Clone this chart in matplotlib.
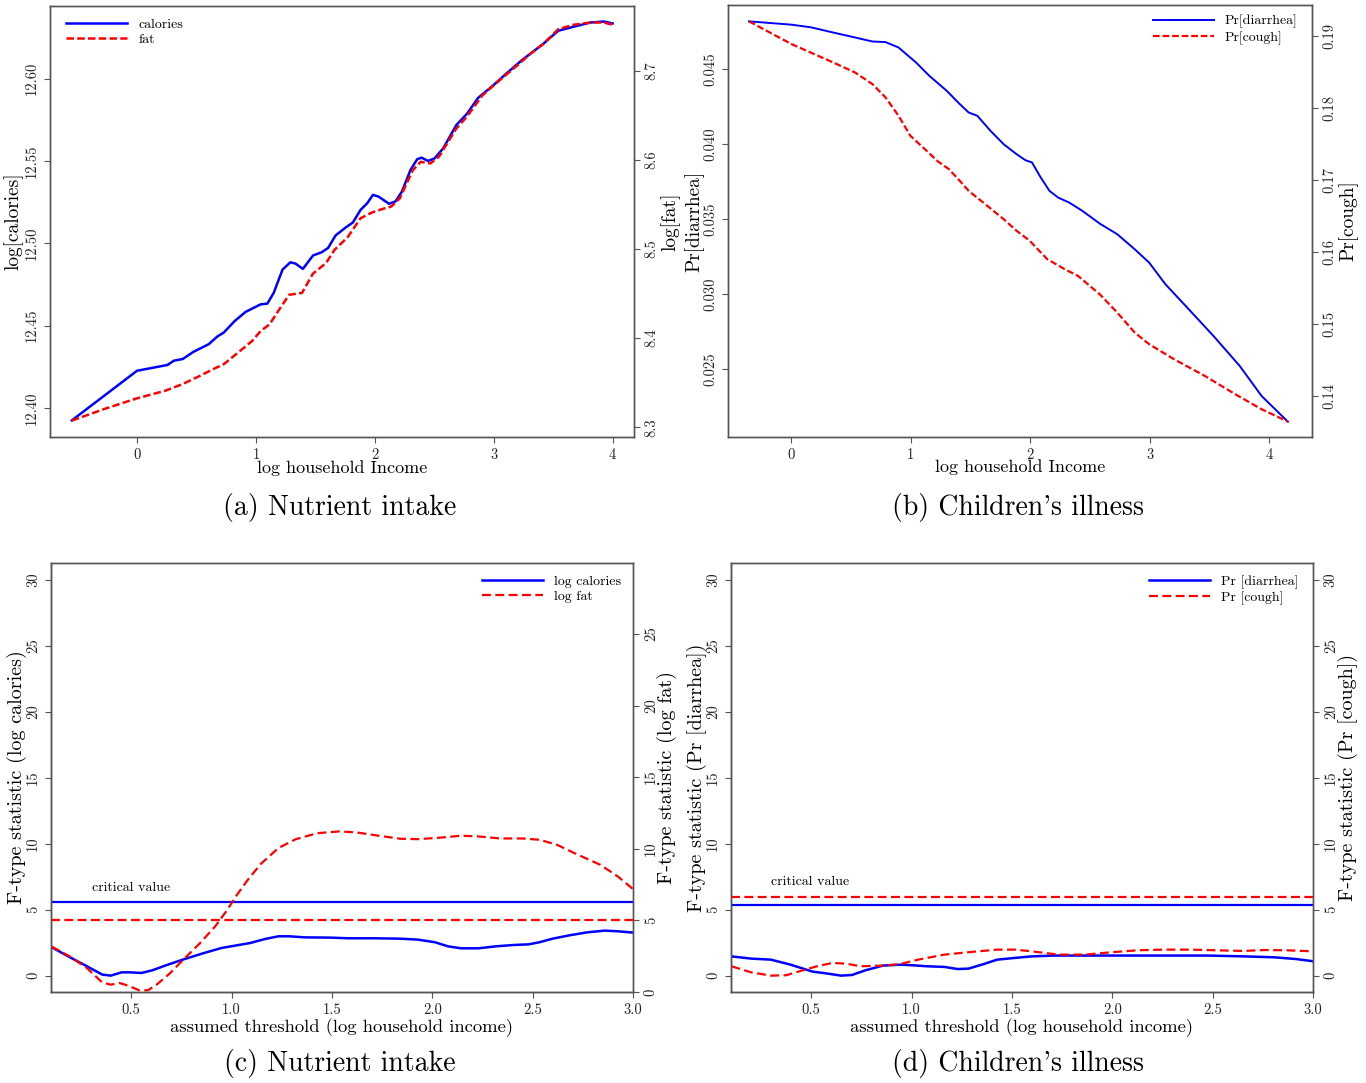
import matplotlib
matplotlib.use('Agg')
import matplotlib.pyplot as plt
from matplotlib.ticker import FixedLocator, FormatStrFormatter

plt.rcParams['font.family'] = ['cmr10', 'DejaVu Serif']
plt.rcParams['axes.formatter.use_mathtext'] = True
plt.rcParams['mathtext.fontset'] = 'cm'

# ---------------- data ----------------
# (a) Nutrient intake
a_cal_x = [-0.548, 0.0, 0.256, 0.31, 0.384, 0.475, 0.603, 0.676, 0.73, 0.822, 0.913, 1.04, 1.096,
           1.15, 1.224, 1.29, 1.333, 1.395, 1.48, 1.553, 1.607, 1.67, 1.753, 1.816, 1.88, 1.936,
           1.984, 2.03, 2.12, 2.173, 2.228, 2.30, 2.356, 2.393, 2.447, 2.502, 2.575, 2.685, 2.776,
           2.868, 2.995, 3.105, 3.233, 3.416, 3.543, 3.67, 3.817, 3.927, 4.0]
a_cal_y = [12.3926, 12.4227, 12.4262, 12.4288, 12.4298, 12.4342, 12.4388, 12.4435, 12.4459, 12.4529,
           12.4584, 12.4630, 12.4634, 12.4700, 12.4841, 12.4885, 12.4877, 12.4845, 12.4926, 12.4946,
           12.4972, 12.5048, 12.5095, 12.5127, 12.5203, 12.5243, 12.5294, 12.5284, 12.5240, 12.5254,
           12.5314, 12.5445, 12.5510, 12.5520, 12.5500, 12.5515, 12.5576, 12.5717, 12.5787, 12.5882,
           12.5958, 12.6029, 12.6109, 12.6210, 12.6290, 12.6314, 12.6340, 12.6346, 12.6334]
a_fat_x = [-0.548, -0.274, 0.0, 0.237, 0.384, 0.53, 0.64, 0.73, 0.822, 0.968, 1.04, 1.114, 1.187,
           1.279, 1.388, 1.48, 1.59, 1.662, 1.772, 1.88, 1.973, 2.064, 2.137, 2.21, 2.32, 2.386,
           2.466, 2.539, 2.685, 2.776, 2.904, 3.03, 3.196, 3.306, 3.416, 3.543, 3.67, 3.817, 3.927, 4.0]
a_fat_y = [8.3074, 8.3205, 8.3324, 8.3409, 8.3484, 8.3577, 8.3651, 8.3707, 8.3807, 8.3967, 8.4079,
           8.4153, 8.4302, 8.4485, 8.4507, 8.4723, 8.4842, 8.4991, 8.5132, 8.5344, 8.5407, 8.5448,
           8.5474, 8.5567, 8.5884, 8.5977, 8.5958, 8.6033, 8.6349, 8.6487, 8.6721, 8.6870, 8.7056,
           8.7186, 8.7298, 8.7465, 8.7514, 8.7540, 8.7540, 8.7514]

# (b) Children's illness
b_dia_x = [-0.355, 0.0, 0.165, 0.348, 0.531, 0.678, 0.788, 0.897, 1.044, 1.154, 1.30, 1.41, 1.484,
           1.557, 1.667, 1.777, 1.886, 1.96, 2.015, 2.088, 2.161, 2.234, 2.326, 2.436, 2.582, 2.729,
           2.875, 2.996, 3.132, 3.315, 3.535, 3.755, 3.938, 4.158]
b_dia_y = [0.04818, 0.04796, 0.04778, 0.04744, 0.04711, 0.04684, 0.04680, 0.04644, 0.04544, 0.04456,
           0.04356, 0.04267, 0.04211, 0.04189, 0.04089, 0.04000, 0.03933, 0.03893, 0.03878, 0.03778,
           0.03689, 0.03644, 0.03611, 0.03556, 0.03471, 0.03400, 0.03300, 0.03211, 0.03067, 0.02911,
           0.02722, 0.02522, 0.02322, 0.02151]
b_cou_x = [-0.355, 0.0, 0.348, 0.531, 0.678, 0.788, 0.897, 0.996, 1.117, 1.227, 1.319, 1.41, 1.484,
           1.63, 1.777, 1.886, 1.996, 2.143, 2.289, 2.399, 2.582, 2.729, 2.875, 2.996, 3.205, 3.462,
           3.718, 3.938, 4.158]
b_cou_y = [0.19199, 0.18884, 0.18630, 0.18491, 0.18329, 0.18144, 0.17889, 0.17611, 0.17426, 0.17255,
           0.17148, 0.16986, 0.16847, 0.16653, 0.16454, 0.16292, 0.16153, 0.15898, 0.15759, 0.15667,
           0.15412, 0.15157, 0.14880, 0.14718, 0.14509, 0.14278, 0.14023, 0.13815, 0.13644]

# (c) F-type statistics, nutrient intake
c_cal_x = [0.101, 0.192, 0.279, 0.355, 0.398, 0.452, 0.496, 0.55, 0.604, 0.669, 0.756, 0.864, 0.951,
           1.016, 1.092, 1.168, 1.233, 1.287, 1.363, 1.493, 1.58, 1.71, 1.84, 1.927, 2.013, 2.078,
           2.143, 2.23, 2.317, 2.404, 2.48, 2.534, 2.599, 2.686, 2.772, 2.859, 2.924, 3.0]
c_cal_y = [2.17, 1.41, 0.71, 0.08, 0.0, 0.25, 0.25, 0.2, 0.4, 0.76, 1.21, 1.72, 2.1, 2.27, 2.47, 2.78,
           2.98, 2.98, 2.9, 2.88, 2.83, 2.83, 2.8, 2.73, 2.53, 2.22, 2.07, 2.07, 2.22, 2.32, 2.37, 2.53,
           2.8, 3.06, 3.28, 3.41, 3.36, 3.26]
c_fat_x = [0.101, 0.192, 0.279, 0.355, 0.398, 0.441, 0.485, 0.539, 0.583, 0.626, 0.691, 0.756, 0.843,
           0.918, 0.973, 1.027, 1.081, 1.146, 1.233, 1.32, 1.428, 1.537, 1.623, 1.732, 1.84, 1.927,
           2.035, 2.143, 2.23, 2.338, 2.447, 2.534, 2.621, 2.707, 2.837, 2.924, 3.0]
c_fat_y = [3.19, 2.49, 1.67, 0.67, 0.51, 0.63, 0.44, 0.12, 0.12, 0.51, 1.28, 2.21, 3.42, 4.58, 5.63,
           6.79, 7.84, 8.95, 10.05, 10.67, 11.09, 11.21, 11.14, 10.91, 10.7, 10.67, 10.77, 10.91,
           10.86, 10.72, 10.72, 10.63, 10.28, 9.7, 8.88, 8.07, 7.19]
c_crit_cal = 5.56
c_crit_fat = 5.05

# (d) F-type statistics, children's illness
d_dia_x = [0.102, 0.2, 0.299, 0.397, 0.507, 0.561, 0.649, 0.703, 0.769, 0.857, 0.944, 1.01, 1.075,
           1.163, 1.229, 1.283, 1.36, 1.426, 1.513, 1.6, 1.71, 1.93, 2.148, 2.476, 2.651, 2.804,
           2.914, 3.0]
d_dia_y = [1.46, 1.29, 1.21, 0.83, 0.3, 0.2, 0.0, 0.05, 0.4, 0.76, 0.83, 0.78, 0.71, 0.66, 0.5, 0.53,
           0.88, 1.21, 1.34, 1.46, 1.52, 1.52, 1.52, 1.52, 1.46, 1.39, 1.26, 1.09]
d_cou_x = [0.102, 0.2, 0.299, 0.375, 0.441, 0.528, 0.605, 0.671, 0.747, 0.857, 0.944, 1.032, 1.163,
           1.294, 1.426, 1.513, 1.6, 1.732, 1.863, 1.994, 2.126, 2.256, 2.39, 2.52, 2.651, 2.76,
           2.87, 3.0]
d_cou_y = [0.71, 0.25, 0.0, 0.03, 0.33, 0.71, 0.96, 0.91, 0.71, 0.76, 0.88, 1.21, 1.59, 1.79, 1.97,
           1.97, 1.84, 1.59, 1.59, 1.77, 1.92, 1.97, 1.97, 1.92, 1.87, 1.94, 1.92, 1.84]
d_crit_dia = 5.33
d_crit_cou = 5.93

captions = ["(a) Nutrient intake", "(b) Children's illness",
            "(c) Nutrient intake", "(d) Children's illness"]

# ---------------- drawing ----------------
W, H = 1366, 1083
fig = plt.figure(figsize=(W / 100, H / 100), dpi=100)

BLUE = '#0000ff'
RED = '#ff0000'
TICKC = '#222'
TFS = 10.5


def rect(l, r, t, b):
    return [l / W, 1 - b / H, (r - l) / W, (b - t) / H]


def style(ax, spine_col='#555'):
    for s in ax.spines.values():
        s.set_color(spine_col)
        s.set_linewidth(1.0)
    ax.tick_params(axis='both', direction='out', length=4, width=0.8, colors='#555',
                   labelcolor=TICKC, labelsize=TFS, pad=4)
    ax.tick_params(axis='y', labelrotation=90)
    for lab in ax.get_yticklabels():
        lab.set_va('center')


def set_ylab(ax, text, xfrac, fs=14):
    ax.set_ylabel(text, fontsize=fs, rotation=90)
    ax.yaxis.set_label_coords(xfrac, 0.5)
    ax.yaxis.label.set_va('center')
    ax.yaxis.label.set_ha('center')


def set_xlab(ax, text, yfrac, fs=13):
    ax.set_xlabel(text, fontsize=fs)
    ax.xaxis.set_label_coords(0.5, yfrac)
    ax.xaxis.label.set_va('center')


def legend(ax, handles, loc, anchor):
    ax.legend(handles=handles, loc=loc, bbox_to_anchor=anchor, frameon=False, fontsize=10,
              handlelength=4.4, handletextpad=0.8, labelspacing=0.2, borderaxespad=0.0)


# ---- (a)
axa = fig.add_axes(rect(50, 634, 6, 437))
axa2 = axa.twinx()
la, = axa.plot(a_cal_x, a_cal_y, color=BLUE, lw=1.8, label='calories')
lb, = axa2.plot(a_fat_x, a_fat_y, color=RED, lw=1.8, ls=(0, (3, 1.3)), label='fat')
axa.set_xlim(-0.732, 4.18)
axa.set_ylim(12.3825, 12.644)
axa2.set_ylim(8.289, 8.7725)
axa.xaxis.set_major_locator(FixedLocator([0, 1, 2, 3, 4]))
axa.xaxis.set_major_formatter(FormatStrFormatter('%d'))
axa.yaxis.set_major_locator(FixedLocator([12.40, 12.45, 12.50, 12.55, 12.60]))
axa.yaxis.set_major_formatter(FormatStrFormatter('%.2f'))
axa2.yaxis.set_major_locator(FixedLocator([8.3, 8.4, 8.5, 8.6, 8.7]))
axa2.yaxis.set_major_formatter(FormatStrFormatter('%.1f'))
style(axa); style(axa2)
set_ylab(axa, 'log[calories]', -0.062)
set_ylab(axa2, 'log[fat]', 1.062)
set_xlab(axa, 'log household Income', -0.072)
legend(axa, [la, lb], 'upper left', (0.018, 0.985))

# ---- (b)
axb = fig.add_axes(rect(728, 1312, 5, 437))
axb2 = axb.twinx()
lc, = axb.plot(b_dia_x, b_dia_y, color=BLUE, lw=1.4, label='Pr[diarrhea]')
ld, = axb2.plot(b_cou_x, b_cou_y, color=RED, lw=1.6, ls=(0, (3, 1.3)), label='Pr[cough]')
axb.set_xlim(-0.531, 4.36)
axb.set_ylim(0.02049, 0.04927)
axb2.set_ylim(0.1343, 0.19426)
axb.xaxis.set_major_locator(FixedLocator([0, 1, 2, 3, 4]))
axb.xaxis.set_major_formatter(FormatStrFormatter('%d'))
axb.yaxis.set_major_locator(FixedLocator([0.025, 0.030, 0.035, 0.040, 0.045]))
axb.yaxis.set_major_formatter(FormatStrFormatter('%.3f'))
axb2.yaxis.set_major_locator(FixedLocator([0.14, 0.15, 0.16, 0.17, 0.18, 0.19]))
axb2.yaxis.set_major_formatter(FormatStrFormatter('%.2f'))
style(axb); style(axb2)
set_ylab(axb, 'Pr[diarrhea]', -0.058)
set_ylab(axb2, 'Pr[cough]', 1.062)
set_xlab(axb, 'log household Income', -0.07)
legend(axb, [lc, ld], 'upper right', (0.985, 0.99))

# ---- (c)
axc = fig.add_axes(rect(51, 633, 563, 992))
axc2 = axc.twinx()
le, = axc.plot(c_cal_x, c_cal_y, color=BLUE, lw=1.8, label='log calories')
lf, = axc2.plot(c_fat_x, c_fat_y, color=RED, lw=1.6, ls=(0, (4, 2)), label='log fat')
axc.axhline(c_crit_cal, color=BLUE, lw=1.6)
axc2.axhline(c_crit_fat, color=RED, lw=1.6, ls=(0, (4, 2)))
axc.text(0.305, 6.15, 'critical value', fontsize=10, ha='left', va='bottom')
axc.set_xlim(0.1, 3.0)
axc.set_ylim(-1.24, 31.26)
axc2.set_ylim(0, 29.95)
axc.xaxis.set_major_locator(FixedLocator([0.5, 1.0, 1.5, 2.0, 2.5, 3.0]))
axc.xaxis.set_major_formatter(FormatStrFormatter('%.1f'))
axc.yaxis.set_major_locator(FixedLocator([0, 5, 10, 15, 20, 25, 30]))
axc.yaxis.set_major_formatter(FormatStrFormatter('%d'))
axc2.yaxis.set_major_locator(FixedLocator([0, 5, 10, 15, 20, 25, 30]))
axc2.yaxis.set_major_formatter(FormatStrFormatter('%d'))
style(axc); style(axc2)
axc.spines['left'].set_color('#111'); axc.spines['bottom'].set_color('#111')
set_ylab(axc, 'F-type statistic (log calories)', -0.058, fs=14.5)
set_ylab(axc2, 'F-type statistic (log fat)', 1.058, fs=14.5)
set_xlab(axc, 'assumed threshold (log household income)', -0.084, fs=13.4)
legend(axc, [le, lf], 'upper right', (0.99, 0.985))

# ---- (d)
axd = fig.add_axes(rect(731, 1313, 563, 992))
axd2 = axd.twinx()
lg, = axd.plot(d_dia_x, d_dia_y, color=BLUE, lw=1.8, label='Pr [diarrhea]')
lh, = axd2.plot(d_cou_x, d_cou_y, color=RED, lw=1.6, ls=(0, (4, 2)), label='Pr [cough]')
axd.axhline(d_crit_dia, color=BLUE, lw=1.6)
axd2.axhline(d_crit_cou, color=RED, lw=1.6, ls=(0, (4, 2)))
axd.text(0.30, 6.65, 'critical value', fontsize=10, ha='left', va='bottom')
axd.set_xlim(0.1, 3.0)
axd.set_ylim(-1.24, 31.26)
axd2.set_ylim(-1.24, 31.26)
axd.xaxis.set_major_locator(FixedLocator([0.5, 1.0, 1.5, 2.0, 2.5, 3.0]))
axd.xaxis.set_major_formatter(FormatStrFormatter('%.1f'))
axd.yaxis.set_major_locator(FixedLocator([0, 5, 10, 15, 20, 25, 30]))
axd.yaxis.set_major_formatter(FormatStrFormatter('%d'))
axd2.yaxis.set_major_locator(FixedLocator([0, 5, 10, 15, 20, 25, 30]))
axd2.yaxis.set_major_formatter(FormatStrFormatter('%d'))
style(axd); style(axd2)
axd.spines['left'].set_color('#111'); axd.spines['bottom'].set_color('#111')
set_ylab(axd, 'F-type statistic (Pr [diarrhea])', -0.058, fs=14.5)
set_ylab(axd2, 'F-type statistic (Pr [cough])', 1.060, fs=14.5)
set_xlab(axd, 'assumed threshold (log household income)', -0.084, fs=13.4)
legend(axd, [lg, lh], 'upper right', (0.985, 0.985))

# captions
CFS = 20
fig.text(340 / W, 1 - 507 / H, captions[0], fontsize=CFS, ha='center', va='center')
fig.text(1018 / W, 1 - 507 / H, captions[1], fontsize=CFS, ha='center', va='center')
fig.text(340 / W, 1 - 1064 / H, captions[2], fontsize=CFS, ha='center', va='center')
fig.text(1018 / W, 1 - 1064 / H, captions[3], fontsize=CFS, ha='center', va='center')

fig.savefig('out.png', dpi=100)
